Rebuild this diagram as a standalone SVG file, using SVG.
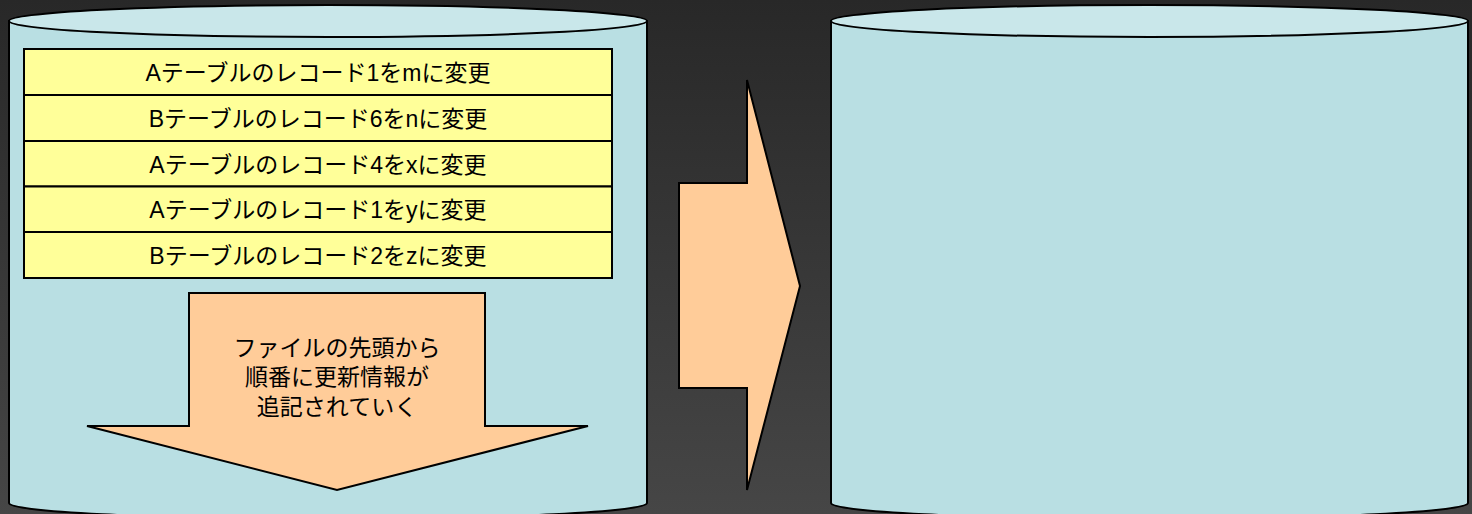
<svg xmlns="http://www.w3.org/2000/svg" width="1472" height="514" viewBox="0 0 1472 514">
<defs>
<linearGradient id="bg" x1="0" y1="0" x2="0" y2="1">
<stop offset="0" stop-color="#282828"/>
<stop offset="1" stop-color="#464646"/>
</linearGradient>
</defs>
<style>
.cyl{fill:#b9dfe3;stroke:#000;stroke-width:2}
.top{fill:#c9e7ea;stroke:#000;stroke-width:2}
.row{fill:#ffff99;stroke:#000;stroke-width:2}
.arr{fill:#ffcc99;stroke:#000;stroke-width:2;stroke-linejoin:miter}
.t{font-family:"Liberation Sans","Noto Sans CJK JP",sans-serif;font-size:23px;fill:#000;text-anchor:middle}
</style>
<rect x="0" y="0" width="1472" height="514" fill="url(#bg)"/>
<g id="cylinder-left">
<path class="cyl" d="M9,21 L9,503 A319,16 0 0 0 647,503 L647,21 Z"/>
<ellipse class="top" cx="328" cy="21" rx="319" ry="16"/>
</g>
<g id="cylinder-right">
<path class="cyl" d="M831,21 L831,503 A318.5,16 0 0 0 1468,503 L1468,21 Z"/>
<ellipse class="top" cx="1149.5" cy="21" rx="318.5" ry="16"/>
</g>
<g id="records">
<g id="rec1"><rect class="row" x="24" y="49" width="588" height="46"/><text class="t" x="318" y="81">Aテーブルのレコード1をmに変更</text></g>
<g id="rec2"><rect class="row" x="24" y="95" width="588" height="46"/><text class="t" x="318" y="127">Bテーブルのレコード6をnに変更</text></g>
<g id="rec3"><rect class="row" x="24" y="141" width="588" height="45.5"/><text class="t" x="318" y="172.5">Aテーブルのレコード4をxに変更</text></g>
<g id="rec4"><rect class="row" x="24" y="186.5" width="588" height="45.5"/><text class="t" x="318" y="218">Aテーブルのレコード1をyに変更</text></g>
<g id="rec5"><rect class="row" x="24" y="232" width="588" height="46"/><text class="t" x="318" y="264">Bテーブルのレコード2をzに変更</text></g>
</g>
<g id="down-arrow">
<polygon class="arr" points="189,293 485,293 485,426 588,426 337,490 87,426 189,426"/>
<text class="t" x="337" y="356">ファイルの先頭から</text>
<text class="t" x="337" y="385">順番に更新情報が</text>
<text class="t" x="337" y="415">追記されていく</text>
</g>
<g id="right-arrow">
<polygon class="arr" points="679,183 747,183 747,80 800,286 747,490 747,388 679,388"/>
</g>
</svg>
